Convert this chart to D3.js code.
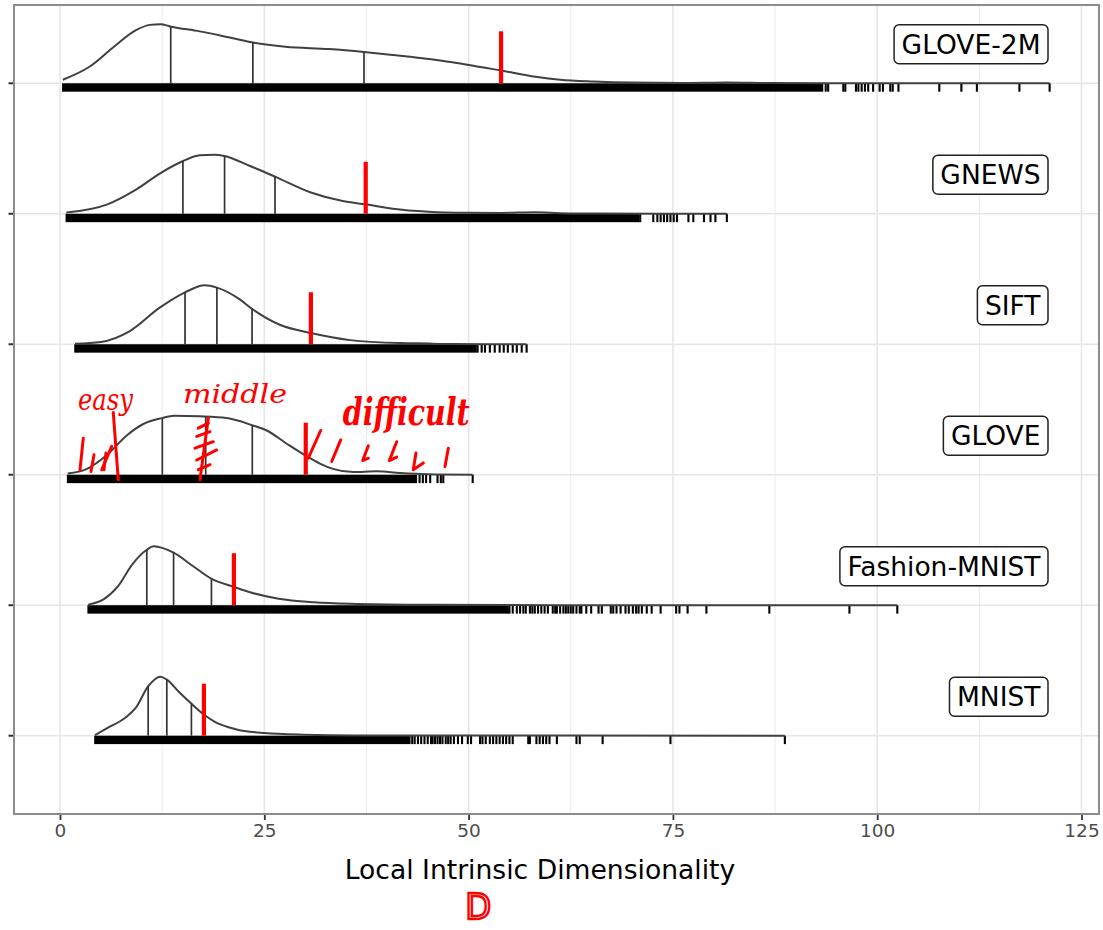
<!DOCTYPE html>
<html><head><meta charset="utf-8">
<script src="https://cdn.jsdelivr.net/npm/d3@7"></script>
<style>body{margin:0;background:#fff}</style></head>
<body>
<svg id="chart" width="1103" height="930"></svg>
<script>
// ---------- data ----------
const datasets = ["MNIST", "Fashion-MNIST", "GLOVE", "SIFT", "GNEWS", "GLOVE-2M"]; // bottom -> top
const xTickValues = [0, 25, 50, 75, 100, 125];
const xMinorValues = [12.5, 37.5, 62.5, 87.5, 112.5];
const xTitle = "Local Intrinsic Dimensionality";

// relative density curves [LID, relative height]
const densGlove2M = [[0.35,0.06],[3.6,0.28],[6.6,0.62],[9.3,0.9],[11,0.99],[12.3,1],[13.6,0.96],[17.1,0.88],[20.6,0.78],[23.6,0.69],[27.6,0.62],[32.9,0.58],[37.2,0.53],[40.7,0.48],[47.3,0.37],[54,0.215],[58.2,0.11],[61.2,0.06],[65.3,0.03],[70,0.012],[76,0.006],[81.6,0.014],[87,0.004],[95,0.001],[121.1,0]];
const densGnews = [[0.78,0.02],[5.8,0.16],[9.3,0.41],[12.3,0.69],[15,0.89],[17.1,0.99],[18.9,1],[20.1,0.98],[23.25,0.81],[26.3,0.63],[30.7,0.36],[34.6,0.215],[37.4,0.16],[40.7,0.085],[45.1,0.034],[49.5,0.017],[54,0.015],[58.2,0.025],[61.2,0.01],[66,0.003],[81.6,0]];
const densSift = [[1.84,0.01],[5,0.04],[8.5,0.22],[12.2,0.62],[15.3,0.88],[17.7,1],[19.2,0.96],[22,0.76],[23.5,0.6],[26.9,0.33],[30.7,0.19],[35.5,0.07],[41.6,0.02],[44,0.015],[48,0.003],[57.1,0]];
const densGlove = [[0.94,0.02],[3.3,0.1],[5.7,0.33],[8.2,0.67],[10.2,0.86],[12.5,0.96],[13.9,1],[17.1,0.99],[20.4,0.96],[23.5,0.84],[25.3,0.75],[27.7,0.53],[30.1,0.32],[31.8,0.19],[33.4,0.1],[35.9,0.045],[38.75,0.06],[41.6,0.03],[43.6,0.015],[46,0.004],[50.5,0]];
const densFashion = [[3.45,0.01],[5.33,0.1],[7.08,0.32],[8.83,0.69],[10.62,0.94],[11.45,1],[13.9,0.89],[16.3,0.66],[18.5,0.45],[21.3,0.31],[23.25,0.22],[26.75,0.11],[31.1,0.05],[36.4,0.022],[45.1,0.006],[61.2,0.001],[102.46,0]];
const densMnist = [[4.28,0.01],[5.77,0.13],[7.95,0.3],[9.26,0.47],[10.8,0.84],[12.3,1],[13.07,0.95],[14.5,0.75],[16.1,0.54],[17.6,0.36],[18.9,0.24],[21.5,0.11],[25,0.045],[29.8,0.017],[36.3,0.005],[88.7,0]];

// quartiles (black lines) per dataset
const qGlove2M = [13.55, 23.6, 37.2];
const qGnews = [15.04, 20.14, 26.31];
const qSift = [15.3, 19.2, 23.5];
const qGlove = [12.52, 17.83, 23.53];
const qFashion = [10.62, 13.9, 18.53];
const qMnist = [10.79, 13.07, 16.08];

// red marker per dataset
const redGlove2M = 53.97, redGnews = 37.41, redSift = 30.7, redGlove = 30.07, redFashion = 21.28, redMnist = 17.61;

// rug: dense band [from, to] and sparse tail points
const rugDenseGlove2M = [0.35, 93.3];
const rugDenseGnews = [0.78, 70.8];
const rugDenseSift = [1.84, 50.9];
const rugDenseGlove = [0.94, 43.6];
const rugDenseFashion = [3.45, 54.6];
const rugDenseMnist = [4.28, 42.8];

const rugGlove2M = [93.7,94.0,95.85,96.1,97.4,97.7,98.1,98.5,98.9,99.5,100.3,100.7,101.6,101.9,102.6,107.6,110.3,112.2,117.4,121.1];
const rugGnews = [71.0,72.6,73.1,73.5,73.9,74.3,74.7,75.1,75.5,76.9,77.5,78.8,79.6,80.2,81.6];
const rugSift = [51.1,51.6,52.0,52.6,53.2,53.8,54.3,54.8,55.4,55.9,56.5,57.1];
const rugGlove = [44.0,44.4,44.8,45.3,46.2,46.6,46.9,50.5];
const rugFashion = [54.8,55.0,55.4,55.9,56.3,56.7,57.0,57.5,57.8,58.1,58.5,58.9,59.3,59.7,60.3,60.6,60.8,61.2,61.6,61.9,62.2,62.5,62.8,63.2,63.6,63.8,64.4,65.0,65.9,66.3,67.4,67.7,68.1,68.6,69.2,69.6,70.1,70.5,70.8,71.2,71.8,72.4,73.5,75.4,75.8,76.8,79.1,86.8,96.6,102.46];
const rugMnist = [43.1,43.4,43.8,44.2,44.6,45.0,45.4,45.6,45.9,46.2,46.5,46.8,47.2,47.5,47.8,48.2,48.7,49.2,49.9,50.3,51.4,51.7,52.1,52.6,53.0,53.4,53.8,54.2,54.6,55.0,55.4,57.3,57.5,58.3,58.7,59.1,59.5,59.9,60.8,63.2,63.6,66.4,74.7,88.7];

// hand-drawn annotation strokes on the GLOVE ridge: [LID, height in ridge units]
const annoStrokes = [
  [[2.85,0.62],[2.45,0.085]], [[4.16,0.34],[3.79,0.056]], [[5.63,0.37],[5.38,0.085]],
  [[6.52,1.056],[7.13,-0.085]], [[5.1,0.085],[6.33,0.48]],
  [[18.15,0.96],[17.13,-0.085]], [[16.92,0.79],[18.15,0.876]], [[16.73,0.65],[18.36,0.73]],
  [[16.52,0.45],[18.76,0.56]], [[16.73,0.25],[19.17,0.42]], [[16.92,0.085],[18.36,0.17]],
  [[30.38,0.28],[31.9,0.75]], [[33.25,0.225],[34.35,0.59]],
  [[37.73,0.49],[37.04,0.24],[37.73,0.28]], [[41.2,0.56],[40.3,0.24],[41.2,0.3]],
  [[43.56,0.37],[43.23,0.085],[44.46,0.2]], [[47.52,0.45],[47.11,0.14]]
];
const annoWords = ["easy", "middle", "difficult"];
const annoWordX = [2.2, 15.05, 34.6];
const annoWordH = [1.1, 1.22, 0.85];
const annoBottom = "D";

// ---------- assembly ----------
const series = [
  {name:"MNIST", dens:densMnist, q:qMnist, red:redMnist, dense:rugDenseMnist, rug:rugMnist},
  {name:"Fashion-MNIST", dens:densFashion, q:qFashion, red:redFashion, dense:rugDenseFashion, rug:rugFashion},
  {name:"GLOVE", dens:densGlove, q:qGlove, red:redGlove, dense:rugDenseGlove, rug:rugGlove},
  {name:"SIFT", dens:densSift, q:qSift, red:redSift, dense:rugDenseSift, rug:rugSift},
  {name:"GNEWS", dens:densGnews, q:qGnews, red:redGnews, dense:rugDenseGnews, rug:rugGnews},
  {name:"GLOVE-2M", dens:densGlove2M, q:qGlove2M, red:redGlove2M, dense:rugDenseGlove2M, rug:rugGlove2M}
];

const svg = d3.select("#chart");
const P = {left:14, right:1099, top:5, bottom:814};
const x = d3.scaleLinear().domain([0,125]).range([60, 1081.5]);
const y = d3.scaleLinear().domain([0.4, 6.6]).range([P.bottom, P.top]);
const H = 59;      // ridge height px for relative density 1
const RUG = 8.4;   // rug tick length
const RED_H = 52;

// grid
const g = svg.append("g");
g.selectAll(".minor").data(xMinorValues).join("line")
  .attr("x1", d=>x(d)).attr("x2", d=>x(d)).attr("y1", P.top).attr("y2", P.bottom)
  .attr("stroke", "#ebebeb").attr("stroke-width", 1);
g.selectAll(".major").data(xTickValues).join("line")
  .attr("x1", d=>x(d)).attr("x2", d=>x(d)).attr("y1", P.top).attr("y2", P.bottom)
  .attr("stroke", "#e6e6e6").attr("stroke-width", 1.6);
g.selectAll(".hmajor").data(datasets).join("line")
  .attr("x1", P.left).attr("x2", P.right).attr("y1", (d,i)=>y(i+1)).attr("y2", (d,i)=>y(i+1))
  .attr("stroke", "#e6e6e6").attr("stroke-width", 1.6);

// ridges
const line = d3.line().curve(d3.curveMonotoneX);
series.forEach((s, i) => {
  const base = y(i + 1);
  const gr = svg.append("g");
  gr.append("rect")
    .attr("x", x(s.dense[0]) - 0.8).attr("width", x(s.dense[1]) - x(s.dense[0]) + 1.6)
    .attr("y", base).attr("height", RUG).attr("fill", "#000");
  gr.selectAll("line.rug").data(s.rug).join("line")
    .attr("x1", d=>x(d)).attr("x2", d=>x(d)).attr("y1", base).attr("y2", base + RUG)
    .attr("stroke", "#000").attr("stroke-width", 2.1);
  const pts = s.dens.map(d => [x(d[0]), base - d[1] * H]);
  const path = gr.append("path").attr("d", line(pts))
    .attr("fill", "none").attr("stroke", "#404040").attr("stroke-width", 2);
  const node = path.node();
  const total = node.getTotalLength();
  function yAt(px) {
    let lo = 0, hi = total;
    for (let k = 0; k < 40; k++) {
      const mid = (lo + hi) / 2;
      if (node.getPointAtLength(mid).x < px) lo = mid; else hi = mid;
    }
    return node.getPointAtLength((lo + hi) / 2).y;
  }
  gr.selectAll("line.q").data(s.q).join("line")
    .attr("x1", d=>x(d)).attr("x2", d=>x(d)).attr("y1", base).attr("y2", d=>yAt(x(d)))
    .attr("stroke", "#333").attr("stroke-width", 1.7);
  gr.append("line")
    .attr("x1", x(s.red)).attr("x2", x(s.red)).attr("y1", base).attr("y2", base - RED_H)
    .attr("stroke", "#ff0000").attr("stroke-width", 4.2);
  const cy = base - 39;
  const lab = gr.append("g");
  const txt = lab.append("text").text(s.name)
    .attr("font-family", "DejaVu Sans").attr("font-size", 26.5).attr("fill", "#000")
    .attr("text-anchor", "end").attr("x", 1040.5).attr("y", cy + 9.5);
  const w = txt.node().getComputedTextLength();
  lab.insert("rect", "text")
    .attr("x", 1040.5 - w - 7.5).attr("y", cy - 19.5).attr("width", w + 15).attr("height", 39)
    .attr("rx", 5).attr("fill", "#fff").attr("stroke", "#222").attr("stroke-width", 1.5);
});

// panel border
svg.append("rect").attr("x", P.left).attr("y", P.top)
  .attr("width", P.right - P.left).attr("height", P.bottom - P.top)
  .attr("fill", "none").attr("stroke", "#8c8c8c").attr("stroke-width", 2);

// y ticks (no labels)
svg.selectAll(".yt").data(datasets).join("line")
  .attr("x1", 8.5).attr("x2", P.left - 1).attr("y1", (d,i)=>y(i+1)).attr("y2", (d,i)=>y(i+1))
  .attr("stroke", "#333").attr("stroke-width", 2);

// x axis
const xAxis = svg.append("g").attr("transform", `translate(0,${P.bottom + 1})`)
  .call(d3.axisBottom(x).tickValues(xTickValues).tickSize(5).tickSizeOuter(0).tickPadding(4));
xAxis.select(".domain").remove();
xAxis.selectAll(".tick line").attr("stroke", "#333").attr("stroke-width", 1.8);
xAxis.selectAll(".tick text").attr("font-family", "DejaVu Sans").attr("font-size", 18.5).attr("fill", "#4d4d4d");

svg.append("text").text(xTitle).attr("x", 540).attr("y", 879)
  .attr("text-anchor", "middle").attr("font-family", "DejaVu Sans").attr("font-size", 26.6).attr("fill", "#000");

// hand-drawn annotations (red)
const gBase = y(3);
const ann = svg.append("g").attr("stroke", "#ff0000").attr("fill", "none")
  .attr("stroke-width", 3).attr("stroke-linecap", "round").attr("stroke-linejoin", "round");
ann.selectAll("path").data(annoStrokes).join("path")
  .attr("d", d => d3.line()(d.map(p => [x(p[0]), gBase - p[1] * H])));
const wordW = [55, 104, 127];
const wordSize = [30, 26, 38];
svg.selectAll(".aw").data(annoWords).join("text").text(d=>d)
  .attr("x", (d,i)=>x(annoWordX[i])).attr("y", (d,i)=>gBase - annoWordH[i] * H)
  .attr("font-family", "DejaVu Serif").attr("font-style", "italic")
  .attr("font-weight", (d,i)=> i === 2 ? "bold" : "normal")
  .attr("font-size", (d,i)=>wordSize[i])
  .attr("textLength", (d,i)=>wordW[i]).attr("lengthAdjust", "spacingAndGlyphs")
  .attr("fill", "#ff0000");
svg.append("text").text(annoBottom).attr("x", x(49.6)).attr("y", 919)
  .attr("font-family", "DejaVu Sans").attr("font-size", 36)
  .attr("textLength", 26).attr("lengthAdjust", "spacingAndGlyphs")
  .attr("fill", "none").attr("stroke", "#ff0000").attr("stroke-width", 2.5);
</script>
</body></html>
